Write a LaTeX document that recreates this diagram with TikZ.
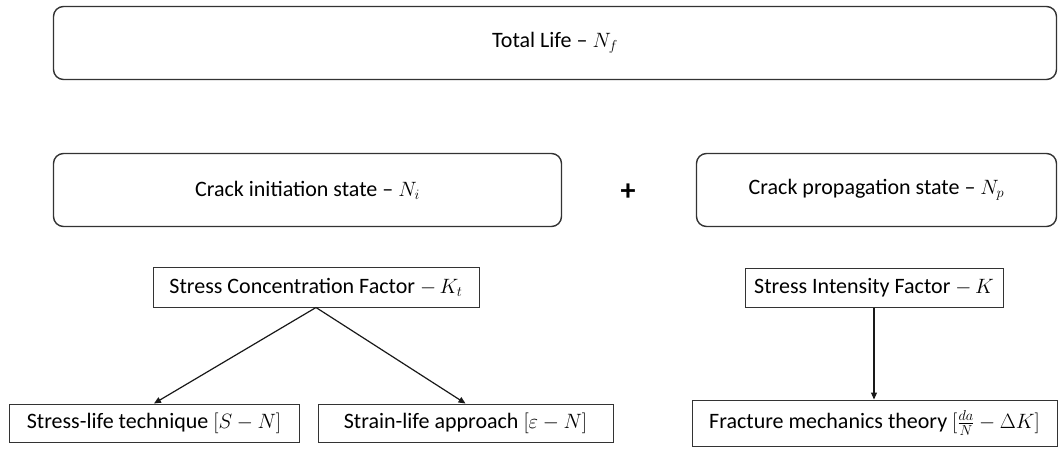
\documentclass[tikz,border=0pt]{standalone}
\usepackage{fontspec}
\setmainfont{Carlito}
\usetikzlibrary{arrows.meta}
\begin{document}
\begin{tikzpicture}[x=1pt,y=-1pt,
  roundbox/.style={draw=black!80,line width=1.4pt,rounded corners=10pt,inner sep=0pt,font=\fontsize{22}{26}\selectfont},
  sqbox/.style={draw=black!80,line width=1pt,inner sep=0pt,minimum height=38pt,font=\fontsize{22}{26}\selectfont},
  arr/.style={-{Triangle[length=7pt,width=6pt]},line width=1.2pt,black!90}]
\useasboundingbox (0,0) rectangle (1058,449);
\node[roundbox,minimum width=1003pt,minimum height=73pt] (total) at (555,43) {Total Life -- $N_f$};
\node[roundbox,minimum width=508pt,minimum height=73pt] (init) at (307.5,190) {Crack initiation state -- $N_i$};
\node[roundbox,minimum width=360pt,minimum height=73pt] (prop) at (876.5,190) {Crack propagation state -- $N_p$};
\node[font=\fontsize{30}{30}\selectfont\bfseries] (plus) at (628,192) {+};
\node[sqbox,minimum width=326pt,minimum height=39pt] (scf) at (316,287.5) {Stress Concentration Factor $-\,K_t$};
\node[sqbox,minimum width=290pt] (sl) at (154,423) {Stress-life technique $[S-N]$};
\node[sqbox,minimum width=295pt] (st) at (465.5,423) {Strain-life approach $[\varepsilon-N]$};
\node[sqbox,minimum width=258pt] (sif) at (874,288) {Stress Intensity Factor $-\,K$};
\node[sqbox,minimum width=365pt,minimum height=46pt] (fr) at (874.5,423) {Fracture mechanics theory $[\frac{da}{N}-\Delta K]$};
\draw[arr] (scf.south) -- (sl.north);
\draw[arr] (scf.south) -- (st.north);
\draw[arr] (sif.south) -- (sif.south |- fr.north);
\end{tikzpicture}
\end{document}
